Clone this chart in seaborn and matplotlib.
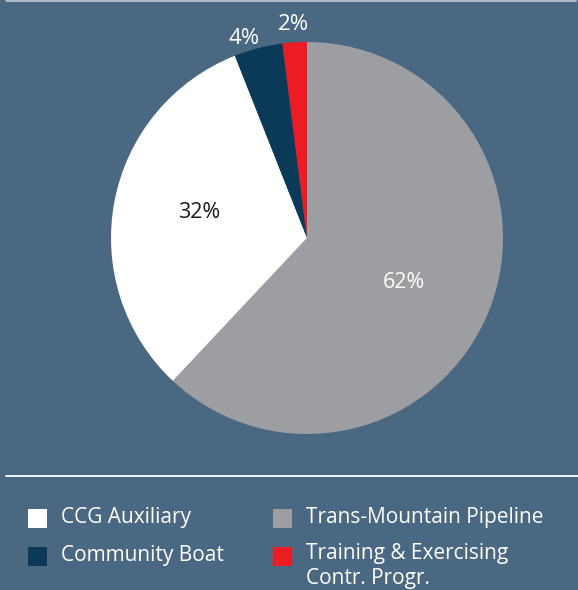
import matplotlib
matplotlib.use('Agg')
import matplotlib.pyplot as plt
import seaborn as sns
from matplotlib.patches import Rectangle
from matplotlib.lines import Line2D
import numpy as np

# data
slice_labels = ['Trans-Mountain Pipeline', 'CCG Auxiliary', 'Community Boat', 'Training & Exercising\nContr. Progr.']
slice_values = [62, 32, 4, 2]
slice_colors = ['#9d9ea2', '#ffffff', '#0b3a58', '#ed1c24']
pct_text_colors = ['white', '#1a1a1a', 'white', 'white']

legend_order = ['CCG Auxiliary', 'Trans-Mountain Pipeline', 'Community Boat', 'Training & Exercising\nContr. Progr.']

bg = '#4a6882'
sns.set_style('white')
plt.rcParams['font.family'] = ['Open Sans', 'DejaVu Sans']

fig = plt.figure(figsize=(5.78, 5.90), dpi=100, facecolor=bg)
W, H = 578, 590

# pie axes: center (307, 238), radius 196
r = 196
cx, cy = 307, 238
ax = fig.add_axes([(cx - r) / W, 1 - (cy + r) / H, 2 * r / W, 2 * r / H])
ax.set_facecolor(bg)
wedges, texts, autotexts = ax.pie(slice_values, colors=slice_colors, startangle=90, counterclock=False,
                                  autopct=lambda p: f'{p:.0f}%', pctdistance=0.53,
                                  wedgeprops=dict(linewidth=0))
ax.set_aspect('equal')
ax.set_xlim(-1, 1)
ax.set_ylim(-1, 1)

for i, (w, t) in enumerate(zip(wedges, autotexts)):
    t.set_color(pct_text_colors[i])
    t.set_fontsize(15.5)
    if slice_values[i] < 10:
        ang = np.deg2rad((w.theta1 + w.theta2) / 2)
        t.set_position((1.09 * np.cos(ang), 1.09 * np.sin(ang)))
        t.set_fontsize(16)
# small nudges to match the reference label placement
x1, y1 = autotexts[1].get_position()
autotexts[1].set_position((x1 - 0.03, y1 + 0.03))
x0, y0 = autotexts[0].get_position()
autotexts[0].set_position((x0, y0 - 0.03))
x2, y2 = autotexts[2].get_position()
autotexts[2].set_position((x2 - 0.05, y2 - 0.04))

# top border line and separator
fig.add_artist(Line2D([6 / W, 576 / W], [1 - 1 / H, 1 - 1 / H], color='#c8ccd2', lw=1.2))
fig.add_artist(Line2D([6 / W, 1], [1 - 476 / H, 1 - 476 / H], color='white', lw=1.3))

# legend
colour_map = dict(zip(slice_labels, slice_colors))
pos = [(28, 509), (273, 509), (28, 547), (273, 547)]
for lab, (x, y) in zip(legend_order, pos):
    fig.add_artist(Rectangle((x / W, 1 - (y + 19) / H), 19 / W, 19 / H,
                             transform=fig.transFigure, facecolor=colour_map[lab], edgecolor='none'))
    if '\n' in lab:
        fig.text((x + 33) / W, 1 - (y - 4) / H, lab, color='white', fontsize=15,
                 va='top', ha='left', linespacing=1.22)
    else:
        fig.text((x + 33) / W, 1 - (y + 9) / H, lab, color='white', fontsize=15,
                 va='center', ha='left')

fig.savefig('out.png', dpi=100, facecolor=bg)
